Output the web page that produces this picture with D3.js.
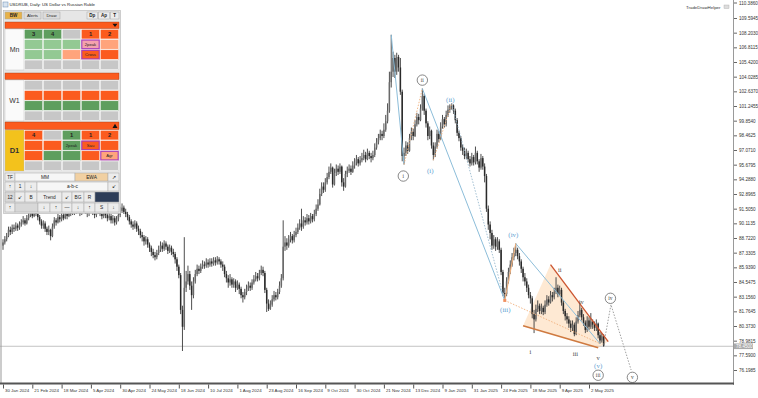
<!DOCTYPE html>
<html><head><meta charset="utf-8">
<script src="https://cdn.jsdelivr.net/npm/d3@7"></script>
<style>body{margin:0;background:#fff;overflow:hidden}svg{display:block}</style>
</head><body><svg id="c" width="758" height="398"></svg>
<script>
// ---------------- DATA ----------------
const symbolTitle = "USDRUB, Daily: US Dollar vs Russian Ruble";
const firstOpen = 88.0;
const closes = [
88.3,88.6,88.9,89.5,89.3,89.7,89.6,89.9,89.7,90.0,
90.2,90.4,90.1,90.6,90.9,91.2,90.8,91.3,91.0,90.7,
90.3,89.9,90.1,89.6,89.3,89.5,88.9,89.8,90.4,90.2,
90.7,90.5,90.9,90.6,91.0,90.8,91.2,91.0,91.4,91.1,
91.5,91.3,91.0,91.4,91.6,91.2,91.0,91.3,91.5,91.1,
90.9,91.2,91.4,91.0,90.8,91.1,90.9,90.6,90.8,90.4,
90.6,90.2,90.5,90.9,91.3,91.6,91.2,91.0,90.7,90.3,
90.0,89.8,90.1,89.6,89.4,89.0,88.8,88.4,88.6,88.1,
87.8,87.4,87.1,86.9,87.3,87.6,88.0,87.7,88.2,87.9,
87.5,87.8,87.4,87.2,86.7,86.0,85.2,81.9,80.3,84.0,
84.6,85.3,84.2,83.3,84.6,85.3,85.8,85.6,86.0,86.2,
86.1,86.4,86.2,86.5,86.3,86.6,86.4,86.7,86.5,86.2,
86.0,85.3,84.9,84.5,84.8,84.3,84.6,84.0,84.3,83.9,
83.3,83.1,83.6,83.9,84.2,84.0,84.5,84.8,85.1,84.9,
85.4,85.7,85.4,83.8,82.5,82.0,82.4,82.9,83.3,83.1,
83.6,84.2,84.9,87.9,88.3,88.0,88.6,88.9,88.5,89.0,
89.3,89.7,90.1,89.8,90.4,90.2,90.6,90.3,90.8,90.5,
91.0,91.5,91.9,92.9,93.6,93.3,94.0,94.5,95.0,95.4,
93.8,94.9,95.3,95.0,95.5,94.0,93.6,94.8,95.1,95.3,
95.0,95.6,95.9,96.2,95.8,96.1,96.3,96.6,96.2,96.8,
96.5,96.3,96.6,97.3,97.8,98.2,98.6,98.4,99.0,99.8,
100.8,103.5,104.5,105.8,104.5,105.9,104.9,102.6,96.5,96.8,
97.5,97.0,98.2,98.8,98.4,99.5,100.2,99.9,101.0,102.2,
100.8,99.6,98.4,98.9,97.5,96.6,97.4,98.6,98.1,99.3,
100.0,99.5,100.4,100.9,101.2,101.3,100.8,99.9,98.7,98.2,
97.3,97.0,96.5,96.8,96.2,95.8,96.4,95.9,96.8,96.0,
95.4,96.3,95.5,94.6,91.5,90.0,89.2,88.0,88.6,87.9,
88.4,87.6,85.5,83.5,83.4,84.6,85.5,86.2,86.9,87.3,
87.6,87.0,86.5,85.8,85.0,84.6,84.0,83.3,83.0,81.5,
81.0,82.0,82.3,81.8,82.1,81.7,82.4,82.9,82.6,83.3,
83.1,83.6,84.0,83.4,83.8,82.6,81.8,81.3,81.0,80.6,
80.2,80.5,79.6,80.8,81.4,81.9,81.2,80.7,80.0,80.9,
80.3,80.8,80.5,80.2,80.6,79.5,79.0,79.4,78.5
];
const highs = [
88.6,88.9,89.2,89.8,89.8,90.0,90.0,90.2,90.1,90.3,
90.5,90.8,90.6,90.9,91.3,91.6,91.4,91.6,91.5,91.2,
90.9,90.5,90.4,90.3,89.8,89.9,89.6,90.1,90.7,90.6,
91.0,90.9,91.2,91.1,91.3,91.2,91.5,91.4,91.7,91.6,
91.8,91.7,91.5,91.7,92.0,91.8,91.4,91.6,91.9,91.7,
91.3,91.5,91.7,91.6,91.2,91.4,91.3,91.1,91.1,91.0,
90.9,90.8,90.8,91.3,91.7,92.0,91.8,91.5,91.2,90.9,
90.5,90.3,90.4,90.3,89.9,89.6,89.3,89.0,88.9,88.8,
88.3,88.0,87.7,87.4,87.6,88.0,88.4,88.3,88.5,88.4,
88.1,88.1,88.0,87.7,87.4,86.9,86.2,85.4,82.3,88.8,
85.6,86.1,85.6,84.6,85.0,85.7,86.2,86.1,86.3,86.6,
86.5,86.8,86.7,86.8,86.8,86.9,86.9,87.0,86.9,86.7,
86.5,86.2,85.6,85.2,85.3,85.0,84.9,84.8,84.7,84.5,
84.1,83.6,83.9,84.3,84.6,84.5,84.8,85.2,85.5,85.4,
85.7,86.1,86.0,85.6,84.0,82.9,82.8,83.3,83.7,83.6,
83.9,84.6,85.3,90.4,88.9,88.7,89.0,89.3,89.1,89.4,
89.7,90.1,90.5,91.5,90.8,90.7,91.0,90.9,91.1,91.0,
91.4,91.9,92.4,93.4,94.0,94.0,94.4,94.9,95.5,95.8,
95.5,95.3,95.7,95.6,95.8,95.6,94.4,95.1,95.5,95.7,
95.6,96.0,96.3,96.6,96.4,96.5,96.8,97.1,96.9,97.2,
97.0,96.8,97.0,97.7,98.2,98.6,99.0,98.9,99.6,100.4,
101.5,104.5,108.0,106.4,106.1,106.3,106.1,105.8,102.8,97.3,
97.9,97.8,98.6,99.2,99.1,99.9,100.6,100.5,101.4,102.9,
102.4,101.0,99.8,99.3,99.0,97.8,97.8,99.0,98.9,99.7,
100.4,100.2,100.8,101.3,101.4,101.5,101.4,101.0,100.1,98.9,
98.4,97.6,97.3,97.2,97.0,96.5,96.8,96.6,97.4,97.0,
96.2,96.7,96.5,95.8,94.8,91.8,90.3,89.5,89.0,88.8,
88.8,88.6,87.8,85.7,84.0,85.0,85.9,86.6,87.3,87.8,
88.2,87.8,87.3,86.7,86.0,85.4,84.9,84.3,83.6,83.2,
81.9,82.4,82.8,82.5,82.5,82.3,82.8,83.3,83.2,83.7,
83.6,84.0,85.0,84.3,84.2,84.0,82.8,82.0,81.6,81.3,
80.9,80.9,80.7,81.2,81.8,82.6,82.1,81.5,80.9,81.3,
81.2,81.6,81.0,80.8,81.0,80.7,79.8,79.7,79.6
];
const lows = [
87.6,88.1,88.4,88.8,89.0,89.1,89.3,89.4,89.4,89.5,
89.8,90.0,89.9,90.0,90.4,90.7,90.6,90.7,90.8,90.4,
90.0,89.6,89.6,89.3,89.0,89.0,88.5,88.8,89.6,89.9,
90.1,90.2,90.3,90.4,90.5,90.5,90.7,90.8,90.9,90.9,
91.0,91.1,90.8,90.9,91.2,91.0,90.7,90.8,91.1,90.9,
90.6,90.7,91.0,90.8,90.5,90.6,90.6,90.3,90.4,90.1,
90.1,89.9,90.0,90.3,90.7,91.1,91.0,90.7,90.4,90.0,
89.7,89.5,89.6,89.3,89.0,88.7,88.4,88.0,88.1,87.8,
87.4,87.0,86.8,86.6,86.7,87.1,87.4,87.4,87.5,87.6,
87.2,87.3,87.1,86.9,86.3,85.6,84.9,81.5,78.0,80.0,
83.6,84.3,83.8,81.9,83.0,84.4,85.1,85.3,85.4,85.8,
85.8,85.9,85.9,86.0,86.0,86.1,86.1,86.2,86.2,85.9,
85.6,85.0,84.5,84.0,84.2,84.0,84.0,83.6,83.8,83.4,
83.0,82.6,82.9,83.3,83.7,83.7,83.8,84.3,84.6,84.6,
84.7,85.2,85.1,83.5,81.7,81.8,81.9,82.2,82.7,82.8,
82.9,83.4,84.0,84.7,87.5,87.6,87.8,88.3,88.2,88.3,
88.8,89.1,89.5,89.4,89.6,89.9,90.0,90.0,90.1,90.2,
90.3,90.8,91.3,91.8,92.7,93.0,93.1,93.8,94.3,94.8,
93.5,93.7,94.6,94.7,94.8,93.6,93.2,93.5,94.5,94.9,
94.7,94.9,95.3,95.6,95.5,95.6,95.9,96.1,95.9,96.1,
96.2,95.9,96.1,96.4,97.1,97.6,98.0,98.0,98.2,98.8,
99.6,100.6,103.0,104.0,103.9,104.2,104.5,102.3,96.0,95.7,
96.5,96.7,96.9,98.0,98.0,98.3,99.3,99.5,99.8,100.8,
100.4,99.2,98.0,98.1,97.2,96.1,96.4,97.2,97.8,98.0,
99.1,99.2,99.3,100.2,100.6,100.9,100.5,99.6,98.4,97.9,
97.0,96.6,96.2,96.2,95.9,95.5,95.6,95.6,95.7,95.7,
95.0,95.2,95.2,94.0,91.2,89.5,88.6,87.6,87.7,87.5,
87.6,87.3,85.2,83.2,82.8,83.2,84.4,85.3,86.0,86.6,
87.0,86.7,86.1,85.4,84.6,84.2,83.6,83.0,82.5,81.1,
79.7,80.8,81.7,81.5,81.5,81.4,81.5,82.2,82.3,82.5,
82.7,82.9,83.4,83.1,83.2,82.3,81.5,80.9,80.6,80.2,
79.8,79.9,79.4,79.5,80.6,81.2,80.9,80.4,79.7,79.8,
80.0,80.1,80.1,79.9,79.9,79.2,78.7,78.8,78.4
];
const xTickBars = [0,16,32,48,64,80,96,112,128,144,160,176,192,208,224,240,256,272,288,304,320];
const xTickLabels = ["30 Jan 2024","21 Feb 2024","18 Mar 2024","5 Apr 2024","30 Apr 2024","24 May 2024","18 Jun 2024","10 Jul 2024","1 Aug 2024","23 Aug 2024","16 Sep 2024","9 Oct 2024","30 Oct 2024","21 Nov 2024","13 Dec 2024","9 Jan 2025","31 Jan 2025","24 Feb 2025","18 Mar 2025","9 Apr 2025","2 May 2025"];
const yTicks = [109.5945,108.2030,106.8115,105.4200,104.0285,102.6370,101.2455,99.8540,98.4625,97.0710,95.6795,94.2880,92.8965,91.5050,90.1135,88.7220,87.3305,85.9390,84.5475,83.1560,81.7645,80.3730,78.9815,77.5900,76.1985];
const yTopLabel = 110.3860;
const lastPrice = 78.45;

// Elliott wave annotations [bar, price]
const waveSolidBlue = [[[212,108.0],[219,95.7]],[[229,102.9],[274,82.8]],[[280,88.2],[326,78.7]]];
const waveDottedBlue = [[[245,101.5],[274,82.8]]];
const wavePeachDotted = [[[219,95.7],[229,102.9]],[[235,96.1],[245,101.5]],[[274,82.8],[326,78.7]]];
const wavePeachSolid = [[[274,82.8],[280,88.2]]];
const projectionPath = [[328,78.6],[332,82.4],[343,76.2]];
const wedgeUpper = [[299,86.2],[330.5,78.9]];
const wedgeLower = [[284,80.4],[325,78.3]];
const circledLabels = [["i",218.6,94.6],["ii",229,103.7],["iii",325,75.7],["iv",331.7,83.0],["v",343.7,75.5]];
const blueLabels = [["(i)",233.3,95.1],["(ii)",244.3,101.9],["(iii)",274.3,81.9],["(iv)",278.7,89.1],["(v)",325,76.6]];
const minorLabels = [["i",288,78.0],["ii",304,85.7],["iii",312.6,77.8],["iv",315.8,82.7],["v",325,77.4]];

// panel states: code:text (* = highlighted)
const mnRows = [["G:3","G:4","N","O:1","O:2"],["L","L","L","P*:2peak","S"],["L","L","S","O*:Cross","O"],["N","N","N","N","N"]];
const w1Rows = [["N","N","N","N","N"],["O","O","O","O","O"],["G","G","G","G","G"],["N","N","N","N","N"]];
const d1Rows = [["O:4","N","G:1","O:1","O:2"],["O","O","G:2peak","O*:Sau","O"],["O","G","G","O","S*:Agr"],["N","N","N","N","N"]];

// ---------------- DRAW ----------------
const svg = d3.select("#c");
const W = 758, H = 398, plotR = 733, plotB = 383;
const x = d3.scaleLinear().domain([0, 320]).range([3, 589]);
const y = d3.scaleLinear().domain([76.1985, 109.5945]).range([370, 18]);
const FS = "Liberation Sans, Arial, sans-serif";
const SERIF = "Liberation Serif, DejaVu Serif, serif";

svg.append("rect").attr("width", W).attr("height", H).attr("fill", "#fff");
svg.append("defs").append("clipPath").attr("id", "pc").append("rect").attr("x", 0).attr("y", 0).attr("width", plotR).attr("height", plotB);
const plot = svg.append("g").attr("clip-path", "url(#pc)");

// current price line
plot.append("line").attr("x1", 0).attr("x2", plotR).attr("y1", y(lastPrice)).attr("y2", y(lastPrice)).attr("stroke", "#c4c4c4").attr("stroke-width", 1);

// wedge
const lineGen = d3.line().x(d => x(d[0])).y(d => y(d[1]));
plot.append("path").attr("d", lineGen([wedgeUpper[0], wedgeUpper[1], wedgeLower[1], wedgeLower[0]]) + "Z")
  .attr("fill", "rgba(253,196,140,0.38)");

// candles
const candles = plot.append("g");
closes.forEach((c, i) => {
  const o = i ? closes[i - 1] : firstOpen;
  const hi = Math.max(highs[i], o, c), lo = Math.min(lows[i], o, c);
  const cx = x(i);
  candles.append("line").attr("x1", cx).attr("x2", cx).attr("y1", y(hi)).attr("y2", y(lo)).attr("stroke", "#3a3a3a").attr("stroke-width", 0.9);
  const top = y(Math.max(o, c)), bot = y(Math.min(o, c));
  candles.append("rect").attr("x", cx - 0.75).attr("width", 1.5).attr("y", top).attr("height", Math.max(0.8, bot - top))
    .attr("fill", c >= o ? "#6a6a6a" : "#2a2a2a");
});

// wave lines
waveSolidBlue.forEach(s => plot.append("path").attr("d", lineGen(s)).attr("stroke", "#8cbdd9").attr("stroke-width", 1).attr("fill", "none"));
waveDottedBlue.forEach(s => plot.append("path").attr("d", lineGen(s)).attr("stroke", "#8cb0c8").attr("stroke-width", 0.8).attr("stroke-dasharray", "1.5,1.5").attr("fill", "none"));
wavePeachDotted.forEach(s => plot.append("path").attr("d", lineGen(s)).attr("stroke", "#f0b07c").attr("stroke-width", 0.9).attr("stroke-dasharray", "1.5,1.5").attr("fill", "none"));
wavePeachSolid.forEach(s => plot.append("path").attr("d", lineGen(s)).attr("stroke", "#f0b07c").attr("stroke-width", 1.1).attr("fill", "none"));
plot.append("path").attr("d", lineGen(projectionPath)).attr("stroke", "#888").attr("stroke-width", 0.8).attr("stroke-dasharray", "1.5,1.5").attr("fill", "none");
plot.append("path").attr("d", lineGen(wedgeUpper)).attr("stroke", "#cc5530").attr("stroke-width", 1.3).attr("fill", "none");
plot.append("path").attr("d", lineGen(wedgeLower)).attr("stroke", "#cf7a40").attr("stroke-width", 1.6).attr("fill", "none");
plot.append("rect").attr("x", x(274) - 1.5).attr("y", y(82.8) - 1.5).attr("width", 3).attr("height", 3).attr("fill", "#f09060");

// labels
circledLabels.forEach(([t, b, p]) => {
  const g = plot.append("g").attr("transform", `translate(${x(b)},${y(p)})`);
  g.append("circle").attr("r", 5.2).attr("fill", "#fff").attr("stroke", "#6a6a6a").attr("stroke-width", 0.8);
  g.append("text").attr("text-anchor", "middle").attr("y", 2).attr("font-family", SERIF).attr("font-size", 5.5).attr("fill", "#444").text(t);
});
blueLabels.forEach(([t, b, p]) => plot.append("text").attr("x", x(b)).attr("y", y(p) + 2.5).attr("text-anchor", "middle")
  .attr("font-family", SERIF).attr("font-size", 7).attr("fill", "#5fa3d3").text(t));
minorLabels.forEach(([t, b, p]) => plot.append("text").attr("x", x(b)).attr("y", y(p) + 2.5).attr("text-anchor", "middle")
  .attr("font-family", SERIF).attr("font-size", 6.5).attr("fill", "#4a4a4a").text(t));

// frame lines
svg.append("line").attr("x1", 1).attr("x2", 1).attr("y1", 0).attr("y2", plotB).attr("stroke", "#999").attr("stroke-width", 1);
svg.append("line").attr("x1", plotR + 0.5).attr("x2", plotR + 0.5).attr("y1", 0).attr("y2", plotB + 2).attr("stroke", "#9a9a9a").attr("stroke-width", 1);
svg.append("line").attr("x1", 0).attr("x2", plotR + 1).attr("y1", plotB + 0.5).attr("y2", plotB + 0.5).attr("stroke", "#555").attr("stroke-width", 2);

// y axis
const yAxis = d3.axisRight(y).tickValues(yTicks).tickFormat(d3.format(".4f")).tickSize(3).tickPadding(2);
const ya = svg.append("g").attr("transform", `translate(${plotR + 1},0)`).call(yAxis);
ya.select(".domain").remove();
ya.selectAll("line").attr("stroke", "#666");
ya.selectAll("text").attr("font-family", FS).attr("font-size", 4.6).attr("fill", "#333");
svg.append("text").attr("x", plotR + 6).attr("y", 4.5).attr("font-family", FS).attr("font-size", 4.6).attr("fill", "#333").text(d3.format(".4f")(yTopLabel));
svg.append("line").attr("x1", plotR + 1).attr("x2", plotR + 4).attr("y1", 3).attr("y2", 3).attr("stroke", "#666");
// price box
svg.append("rect").attr("x", plotR + 1).attr("y", y(lastPrice) - 2.8).attr("width", 19).attr("height", 5.6).attr("fill", "#aaa");
svg.append("text").attr("x", plotR + 3).attr("y", y(lastPrice) + 1.7).attr("font-family", FS).attr("font-size", 4.6).attr("fill", "#fff").text(d3.format(".4f")(lastPrice));

// x axis
const xAxis = d3.axisBottom(x).tickValues(xTickBars).tickFormat((d, i) => xTickLabels[i]).tickSize(4).tickPadding(2);
const xa = svg.append("g").attr("transform", `translate(0,${plotB + 1.5})`).call(xAxis);
xa.select(".domain").remove();
xa.selectAll("line").attr("stroke", "#555");
xa.selectAll("text").attr("text-anchor", "start").attr("dx", 1.5).attr("dy", 1.5).attr("font-family", FS).attr("font-size", 4.4).attr("fill", "#333");

// title
svg.append("rect").attr("x", 3).attr("y", 2).attr("width", 5).attr("height", 5).attr("fill", "#d8e4f0").attr("stroke", "#6a8ab0").attr("stroke-width", 0.5);
svg.append("text").attr("x", 9.5).attr("y", 6.3).attr("font-family", FS).attr("font-size", 4.3).attr("fill", "#222").text(symbolTitle);
svg.append("text").attr("x", 686).attr("y", 8.5).attr("font-family", FS).attr("font-size", 4.4).attr("fill", "#333").text("TradeDrawHelper");
svg.append("rect").attr("x", 724).attr("y", 5).attr("width", 5).attr("height", 3.5).attr("fill", "#ddd").attr("stroke", "#aaa").attr("stroke-width", 0.4);

// ---------------- PANEL ----------------
const P = svg.append("g");
const pal = {O: "#fb5b1e", G: "#5e9e5e", L: "#93c993", S: "#ffa47c", N: "#c7c7c7", P: "#f5a2ae"};
const colX = [24, 43, 62, 81, 100, 119];
P.append("rect").attr("x", 3.5).attr("y", 10.5).attr("width", 117).attr("height", 203).attr("fill", "#e6e6e6").attr("stroke", "#b5b5b5").attr("stroke-width", 0.6);
function btn(x0, x1, y0, y1, t, fill, opt = {}) {
  P.append("rect").attr("x", x0).attr("y", y0).attr("width", x1 - x0).attr("height", y1 - y0).attr("fill", fill).attr("stroke", opt.stroke || "#a8a8a8").attr("stroke-width", 0.5);
  if (t) P.append("text").attr("x", (x0 + x1) / 2).attr("y", (y0 + y1) / 2 + (opt.fs || 5) * 0.36).attr("text-anchor", "middle")
    .attr("font-family", FS).attr("font-size", opt.fs || 5).attr("font-weight", opt.bold ? "bold" : "normal").attr("fill", opt.color || "#222").text(t);
}
btn(5, 22, 12, 19, "BW", "#e6b24a", {bold: true, fs: 4.6});
btn(24, 41, 12, 19, "Alerts", "#dcdcdc", {fs: 4.3});
btn(43, 60, 12, 19, "Draw", "#dcdcdc", {fs: 4.3});
btn(87, 97.5, 12, 19, "Dp", "#ececec", {bold: true, fs: 4.6});
btn(98.5, 109.5, 12, 19, "Ap", "#ececec", {bold: true, fs: 4.6});
btn(110.5, 119, 12, 19, "T", "#ececec", {bold: true, fs: 4.6});

function orangeBar(y0, y1, tri) {
  P.append("rect").attr("x", 5).attr("y", y0).attr("width", 114).attr("height", y1 - y0).attr("fill", "#fb5b1e").attr("stroke", "#a03a10").attr("stroke-width", 0.4);
  if (tri === "down") P.append("path").attr("d", `M112.5,${y0 + 1.8}L117.5,${y0 + 1.8}L115,${y1 - 1.5}Z`).attr("fill", "#111");
  if (tri === "up") P.append("path").attr("d", `M112.5,${y1 - 1.5}L117.5,${y1 - 1.5}L115,${y0 + 1.8}Z`).attr("fill", "#111");
}
function section(rows, y0, label, labelFill, labelBold) {
  const rh = 10.25;
  P.append("rect").attr("x", 5).attr("y", y0).attr("width", 19).attr("height", rh * 4).attr("fill", labelFill).attr("stroke", "#bbb").attr("stroke-width", 0.4);
  P.append("text").attr("x", 14.5).attr("y", y0 + rh * 2 + 2.6).attr("text-anchor", "middle").attr("font-family", FS)
    .attr("font-size", labelBold ? 7.5 : 7).attr("font-weight", labelBold ? "bold" : "normal").attr("fill", "#333").text(label);
  rows.forEach((row, r) => row.forEach((code, c) => {
    const [k, t] = code.split(":");
    const hl = k.includes("*"), key = k.replace("*", "");
    const x0 = colX[c], x1 = colX[c + 1], yy0 = y0 + r * rh;
    P.append("rect").attr("x", x0 + 0.3).attr("y", yy0 + 0.3).attr("width", x1 - x0 - 0.6).attr("height", rh - 0.6)
      .attr("fill", pal[key]).attr("stroke", "#fff").attr("stroke-width", 0.5);
    if (hl) P.append("rect").attr("x", x0 + 0.8).attr("y", yy0 + 0.8).attr("width", x1 - x0 - 1.6).attr("height", rh - 1.6)
      .attr("fill", "none").attr("stroke", "#a23bbf").attr("stroke-width", 1.1);
    if (t) {
      const num = /^\d$/.test(t);
      P.append("text").attr("x", (x0 + x1) / 2).attr("y", yy0 + rh / 2 + (num ? 2 : 1.5)).attr("text-anchor", "middle")
        .attr("font-family", FS).attr("font-size", num ? 5.8 : 4.2).attr("font-weight", num ? "bold" : "normal").attr("fill", "#222").text(t);
    }
  }));
}
orangeBar(22, 28.5, "down");
section(mnRows, 29, "Mn", "#fafafa", false);
orangeBar(73, 79.5, null);
section(w1Rows, 80, "W1", "#fafafa", false);
orangeBar(122, 129.5, "up");
section(d1Rows, 130, "D1", "#f3c21c", true);

// toolbar
const L = "#ececec";
btn(5, 15, 173, 181, "TF", L, {fs: 4.6});
btn(15, 75, 173, 181, "MM", "#f6f6f6", {fs: 4.8});
btn(75, 108, 173, 181, "EWA", "#f1d0a2", {fs: 4.8});
btn(108, 119, 173, 181, "↗", L, {fs: 5});
btn(5, 15, 182, 191, "↑", L, {fs: 5});
btn(15, 25, 182, 191, "1", L, {fs: 4.8});
btn(25, 37, 182, 191, "↓", L, {fs: 5});
btn(37, 108, 182, 191, "a-b-c", "#f6f6f6", {fs: 4.8});
btn(108, 119, 182, 191, "↙", L, {fs: 5});
btn(5, 15, 192, 202, "12", "#d8d8d8", {fs: 4.6});
btn(15, 25, 192, 202, "↙", L, {fs: 5});
btn(25, 37, 192, 202, "B", L, {fs: 4.8});
btn(37, 62, 192, 202, "Trend", L, {fs: 4.8});
btn(62, 72, 192, 202, "↙", L, {fs: 5});
btn(72, 84, 192, 202, "BG", L, {fs: 4.8});
btn(84, 95, 192, 202, "R", L, {fs: 4.8});
btn(95, 119, 192, 202, "", "#2c3c58");
btn(5, 15, 203, 212, "↑", L, {fs: 5});
btn(15, 38, 203, 212, "", "#d8d8d8");
btn(38, 50, 203, 212, "↓", L, {fs: 5});
btn(50, 62, 203, 212, "↑", L, {fs: 5});
btn(62, 72, 203, 212, "—", L, {fs: 5});
btn(72, 84, 203, 212, "↓", L, {fs: 5});
btn(84, 95, 203, 212, "↑", L, {fs: 5});
btn(95, 108, 203, 212, "S", L, {fs: 4.8});
btn(108, 119, 203, 212, "↓", L, {fs: 5});
</script></body></html>
